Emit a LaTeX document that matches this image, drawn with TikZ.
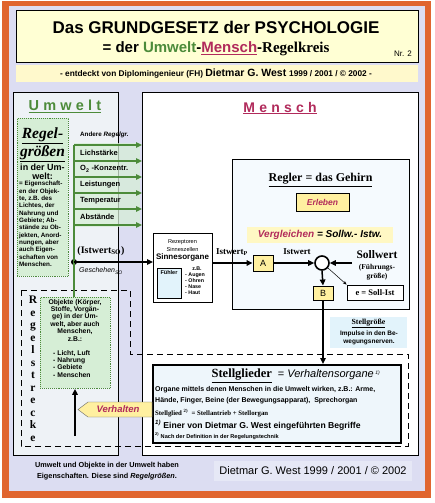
\documentclass[tikz,border=0pt]{standalone}
\usepackage{fontspec}
\setmainfont{Liberation Sans}
\newfontfamily\tms{Liberation Serif}
\usetikzlibrary{arrows.meta}
\definecolor{orangeF}{HTML}{E0652F}
\definecolor{lav}{HTML}{DCDDF2}
\definecolor{titley}{HTML}{FFFFD4}
\definecolor{suby}{HTML}{FFF9CC}
\definecolor{grn}{HTML}{4C8B3A}
\definecolor{lgrn}{HTML}{D6EED6}
\definecolor{crim}{HTML}{B12A5B}
\definecolor{yel}{HTML}{FFF0A0}
\definecolor{lyel}{HTML}{FFF8C4}
\definecolor{lblue}{HTML}{E2F3FB}
\definecolor{umfill}{HTML}{EEF2F6}
\definecolor{regfill}{HTML}{F5FAFE}
\definecolor{stfill}{HTML}{EEF6FB}
\definecolor{bandc}{HTML}{E6E8F6}
\newcommand\fs[2]{\fontsize{#1}{#2}\selectfont}
\newcommand\lsp{\hspace{4.2pt}}
\begin{document}
\begin{tikzpicture}[x=1pt,y=-1pt,
  bigbox/.style={draw=black, line width=1.3pt},
  thinbox/.style={draw=black, line width=0.9pt},
  gbox/.style={draw=grn, densely dotted, line width=0.9pt, fill=lgrn},
  ybox/.style={draw=black, line width=0.9pt, fill=yel, inner sep=0pt},
  arr/.style={-{Triangle[length=6pt,width=5.5pt]}, line width=1.5pt},
  garr/.style={-{Triangle[length=6pt,width=5.5pt]}, line width=1.6pt, draw=grn},
  lbl/.style={inner sep=0pt, font=\bfseries\fs{7.5}{8}},
  sml/.style={inner sep=0pt, align=center}]
\useasboundingbox (0,0) rectangle (434,503);
% frame
\fill[white] (0,0) rectangle (434,503);
\fill[orangeF] (2,1) rectangle (431,498);
\fill[lav] (9,6) rectangle (425,491);
% title
\node[thinbox, fill=titley, minimum width=402pt, minimum height=52pt, anchor=north west] (title) at (16,10) {};
\node[inner sep=0pt, font=\bfseries\fs{17}{17}] (t1) at (216,27) {Das GRUNDGESETZ der PSYCHOLOGIE};
\node[inner sep=0pt, font=\bfseries\fs{15}{15}] (t2) at (216,49) {= der \textcolor{grn}{Umwelt}-\textcolor{crim}{\underline{Mensch}}-{\tms Regelkreis}};
\node[inner sep=0pt, font=\fs{8}{8}] (nr) at (403,54) {Nr. 2};
\node[fill=suby, minimum width=402pt, minimum height=17pt, anchor=north west, inner sep=0pt] (sub) at (16,65) {};
\node[inner sep=0pt, font=\bfseries] (subt) at (216,74) {\fs{8.3}{9}- entdeckt von Diplomingenieur (FH) \fs{10.5}{11}Dietmar G. West \fs{8.3}{9}1999 / 2001 / © 2002 -};
% main boxes
\node[bigbox, fill=umfill, minimum width=105pt, minimum height=363pt, anchor=north west] (umwelt) at (13,92) {};
\node[bigbox, fill=white, minimum width=276pt, minimum height=363pt, anchor=north west] (mensch) at (142,92) {};
\node[inner sep=0pt, text=grn, font=\bfseries\fs{14.5}{15}] (umt) at (65,106) {\underline{U\lsp m\lsp w\lsp e\lsp l\lsp t}};
\node[inner sep=0pt, text=crim, font=\bfseries\fs{14}{15}] (met) at (280,108) {\underline{M\lsp e\lsp n\lsp s\lsp c\lsp h}};
% Regelgroessen box
\node[gbox, minimum width=51pt, minimum height=158pt, anchor=north west] (rg) at (17,118) {};
\node[inner sep=0pt, font=\tms\bfseries\itshape\fs{15.5}{16}] (rg1) at (42.5,136) {\underline{Regel-}};
\node[inner sep=0pt, font=\tms\bfseries\itshape\fs{15.5}{16}] (rg2) at (42.5,154) {\underline{größen}};
\node[inner sep=0pt, font=\bfseries\fs{9}{9}] (rg3) at (42.5,167) {in der Um-};
\node[inner sep=0pt, font=\bfseries\fs{9}{9}] (rg4) at (42.5,176) {welt:};
\node[inner sep=0pt, align=left, anchor=north west, font=\bfseries\fs{6.3}{7.35}] (rg5) at (19,181)
 {= Eigenschaft-\\en der Objek-\\te, z.B. des\\Lichtes, der\\Nahrung und\\Gebiete; Ab-\\stände zu Ob-\\jekten, Anord-\\nungen, aber\\auch Eigen-\\schaften von\\Menschen.};
% green arrows
\fill[lgrn, opacity=0.75] (74,143) rectangle (140,227);
\coordinate (g1) at (74,145);
\coordinate (g2) at (74,161);
\coordinate (g3) at (74,177);
\coordinate (g4) at (74,193);
\coordinate (g5) at (74,209);
\coordinate (g6) at (74,225);
\node[circle, fill=black, inner sep=0pt, minimum size=6pt] (dot) at (74,262) {};
\draw[grn, line width=1.6pt] (g1) -- (dot.center);
\foreach \g in {g1,g2,g3,g4,g5,g6} \draw[garr] (\g) -- (\g -| mensch.west);
\node[lbl, anchor=west, font=\bfseries\fs{6.3}{7}] (andere) at (80,135) {Andere \textit{Regelgr.}};
\node[lbl, anchor=west] (l1) at (80,153) {Lichstärke};
\node[lbl, anchor=west] (l2) at (80,169) {O\textsubscript{2} -Konzentr.};
\node[lbl, anchor=west] (l3) at (80,185) {Leistungen};
\node[lbl, anchor=west] (l4) at (80,201) {Temperatur};
\node[lbl, anchor=west] (l5) at (80,217) {Abstände};
\node[inner sep=0pt, font=\tms\bfseries\fs{10}{10}] (istso) at (101,251) {(Istwert\textsubscript{SO})};
\node[inner sep=0pt, font=\itshape\fs{7}{7}] (gesch) at (101,271) {Geschehen\textsubscript{SO}};
% Regelstrecke
\draw[line width=1pt, dash pattern=on 6pt off 4pt] (21,290) -- (130,290) -- (130,354) -- (408,354) -- (408,446) -- (21,446) -- cycle;
\node[inner sep=0pt, anchor=north, align=center, font=\tms\bfseries\fs{11.5}{12.5}] (rstr) at (33,296) {R\\e\\g\\e\\l\\s\\t\\r\\e\\c\\k\\e};
\node[gbox, minimum width=70pt, minimum height=91pt, anchor=north west] (obj) at (40,297) {};
\node[sml, anchor=north, font=\bfseries\fs{6.8}{7.4}] (objt) at (75,299) {Objekte (Körper,\\Stoffe, Vorgän-\\ge) in der Um-\\welt, aber auch\\Menschen,\\z.B.:};
\node[inner sep=0pt, align=left, anchor=north west, font=\bfseries\fs{6.8}{7.4}] (objl) at (53,350) {- Licht, Luft\\- Nahrung\\- Gebiete\\- Menschen};
\draw[grn, line width=1.6pt] (dot.center) -- (obj.north -| dot);
% Sinnesorgane
\node[thinbox, fill=white, minimum width=59pt, minimum height=69pt, anchor=north west] (sinn) at (153,233) {};
\draw[arr] (dot.center) -- (dot -| sinn.west);
\node[inner sep=0pt, font=\fs{5.6}{6}] (s1) at (182.5,242) {Rezeptoren};
\node[inner sep=0pt, font=\fs{5.6}{6}] (s2) at (182.5,249) {Sinneszellen};
\node[inner sep=0pt, font=\bfseries\fs{8}{8}] (s3) at (182.5,257) {Sinnesorgane};
\node[draw=black, line width=0.5pt, fill=lblue, minimum width=24pt, minimum height=30pt, anchor=north west, inner sep=0pt] (fuehl) at (157,268) {};
\node[inner sep=0pt, font=\bfseries\fs{5.5}{6}] (fuehlt) at (169,273) {Fühler};
\node[inner sep=0pt, font=\bfseries\fs{5.3}{6}] (zb) at (197,269) {z.B.};
\node[inner sep=0pt, align=left, anchor=north west, font=\bfseries\fs{5.3}{5.9}] (zbl) at (185,272.5) {- Augen\\- Ohren\\- Nase\\- Haut};
% Regler
\node[bigbox, line width=1.1pt, fill=regfill, minimum width=177pt, minimum height=150pt, anchor=north west] (regler) at (232,159) {};
\node[inner sep=0pt, font=\tms\bfseries\fs{12}{12}] (regt) at (320.5,180) {\underline{Regler = das Gehirn}};
\node[ybox, minimum width=53pt, minimum height=18pt, font=\bfseries\itshape\fs{8.5}{9}, text=crim] (erl) at (322.5,202) {Erleben};
\node[fill=lyel, minimum width=146pt, minimum height=16pt, inner sep=0pt, font=\bfseries\itshape\fs{10}{10}] (vgl) at (320,235) {\textcolor{crim}{Vergleichen} = Sollw.- Istw.};
\node[ybox, minimum width=20pt, minimum height=16pt, font=\fs{9}{9}] (A) at (263,263) {A};
\draw[arr] (sinn.east |- A) -- (A.west);
\node[inner sep=0pt, font=\tms\bfseries\fs{9}{9}] (istp) at (232,252) {Istwert\textsubscript{P}};
\node[circle, draw=black, line width=1.6pt, fill=white, minimum size=14pt, inner sep=0pt] (cmp) at (322,263) {};
\draw[arr] (A.east) -- (cmp.west);
\node[inner sep=0pt, font=\tms\bfseries\fs{9}{9}] (istw) at (297,252) {Istwert};
\coordinate (sw) at (352,263);
\draw[arr] (sw) -- (cmp.east);
\node[inner sep=0pt, font=\tms\bfseries\fs{11.5}{12}] (soll) at (377,255) {Sollwert};
\node[sml, font=\tms\bfseries\fs{7.5}{8.8}] (fg) at (377,272) {(Führungs-\\größe)};
\node[ybox, minimum width=20pt, minimum height=14pt, font=\fs{9}{9}] (B) at (323,293) {B};
\draw[arr] (cmp.south) -- (B.north);
\node[thinbox, line width=0.7pt, fill=white, minimum width=56pt, minimum height=15pt, inner sep=0pt, font=\tms\bfseries\fs{8.5}{9}] (ebox) at (375,292.5) {e = Soll-Ist};
\draw[-{Stealth[length=4pt,width=3pt]}, line width=0.5pt] (cmp.-40) -- (ebox.north west);
% Stellgroesse
\node[fill=lblue, minimum width=77pt, minimum height=31pt, inner sep=0pt] (sgbox) at (368.5,332.5) {};
\node[inner sep=0pt, font=\tms\bfseries\fs{7.8}{8}] (sg1) at (368.5,323.5) {\underline{Stellgröße}};
\node[sml, font=\bfseries\fs{6.5}{8.5}] (sg2) at (369,338) {Impulse in den Be-\\wegungsnerven.};
% Stellglieder
\node[bigbox, line width=1.5pt, fill=stfill, minimum width=248pt, minimum height=78pt, anchor=north west] (stell) at (152,364) {};
\draw[arr] (B.south) -- (B.south |- stell.north);
\node[inner sep=0pt] (st0) at (296,376) {{\tms\bfseries\fs{12.5}{13}\underline{Stellglieder}} {\fs{11}{11} = \textit{Verhaltensorgane}}\,{\fs{7}{7}\textsuperscript{\textit{1)}}}};
\node[inner sep=0pt, anchor=west, font=\bfseries\fs{7}{7}] (st1) at (155,390) {Organe mittels denen Menschen in die Umwelt wirken, z.B.: Arme,};
\node[inner sep=0pt, anchor=west, font=\bfseries\fs{7}{7}] (st2) at (155,401) {Hände, Finger, Beine (der Bewegungsapparat),\ \ Sprechorgan};
\node[inner sep=0pt, anchor=west, font=\tms\bfseries\fs{6.8}{7}] (st3) at (155,413) {Stellglied \textsuperscript{2)} \ = Stellantrieb + Stellorgan};
\node[inner sep=0pt, anchor=west, font=\bfseries\fs{8.6}{9}] (st4) at (155,425) {\textsuperscript{\textit{1)}} Einer von Dietmar G. West eingeführten Begriffe};
\node[inner sep=0pt, anchor=west, font=\bfseries\fs{5.6}{6}] (st5) at (155,436) {\textsuperscript{2)} Nach der Definition in der Regelungstechnik};
% Verhalten
\fill[yel, draw=black!60, line width=0.4pt] (78,409.5) -- (88,402) -- (152,402) -- (152,417) -- (88,417) -- cycle;
\node[inner sep=0pt, text=crim, font=\bfseries\itshape\fs{9.5}{10}] (verh) at (118,409.5) {Verhalten};
\coordinate (vb) at (75,436);
\draw[arr] (vb) -- (vb |- obj.south);
% bottom
\node[sml, font=\bfseries\fs{7.3}{11.5}] (bt1) at (107,471) {Umwelt und Objekte in der Umwelt haben\\Eigenschaften. Diese sind \textit{Regelgrößen}.};
\node[fill=bandc, minimum width=198pt, minimum height=20pt, inner sep=0pt, font=\fs{11}{11}] (bt2) at (313,471) {Dietmar G. West 1999 / 2001 / © 2002};
\end{tikzpicture}
\end{document}
